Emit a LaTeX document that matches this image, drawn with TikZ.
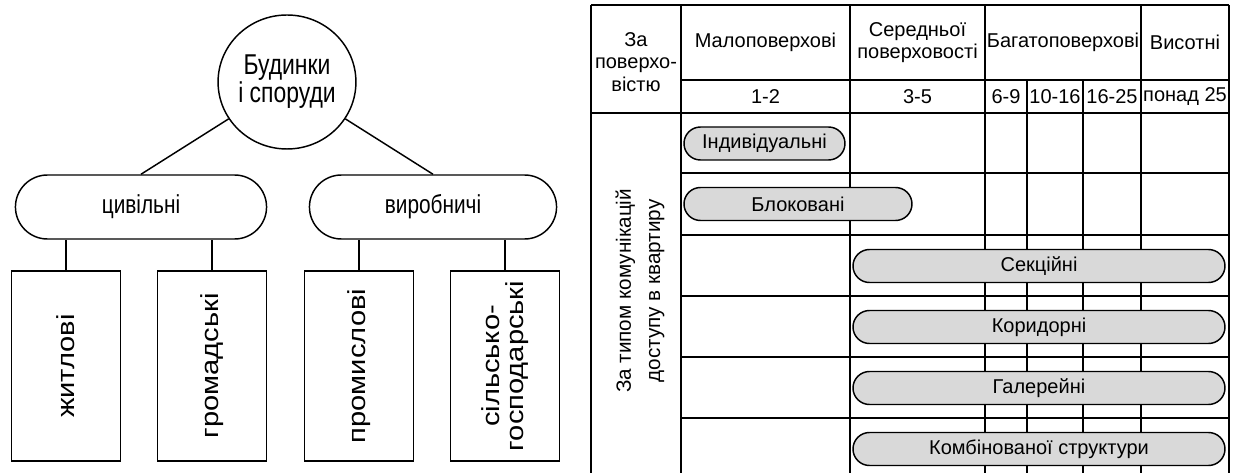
\documentclass[tikz,border=0pt]{standalone}
\usepackage{fontspec}
\setmainfont{Liberation Sans}
\newfontfamily\treenarrow[FakeStretch=0.8]{Liberation Sans}
\newfontfamily\treewide[FakeStretch=1.18]{Liberation Sans}
\usetikzlibrary{positioning,shapes.geometric,shapes.misc}

\begin{document}
\begin{tikzpicture}[x=0.75pt,y=-0.75pt,line width=1.1pt,
  treefont/.style={font=\treenarrow\fontsize{19.5}{22}\selectfont},
  leaffont/.style={font=\treewide\fontsize{18.5}{17.5}\selectfont},
  tabfont/.style={font=\fontsize{15}{17}\selectfont},
  oval/.style={draw, rounded rectangle, minimum height=48pt, treefont},
  leaf/.style={draw, minimum width=81.75pt, minimum height=142.5pt},
  pill/.style={draw, fill=black!15, rounded rectangle, minimum height=24.75pt, inner sep=0pt, tabfont}]
\useasboundingbox (0,0) rectangle (1233,473);
% Tree
\node[draw, ellipse, minimum width=93pt, minimum height=100.5pt, inner sep=0pt, align=center,
  font=\treenarrow\fontsize{21.5}{18.75}\selectfont] (root) at (287,82) {Будинки\\і споруди};
\node[oval, minimum width=195pt] (civ) at (141,207) {цивільні};
\node[oval, minimum width=192pt] (vyr) at (433,207) {виробничі};
\draw (root) -- (civ.north);
\draw (root) -- (vyr.north);
% leaves with vertical labels
\foreach \x/\n/\t/\p in {66/zh/житлові/civ, 212/hr/громадські/civ, 359/pr/промислові/vyr, 505/sh/{сільсько-\\господарські}/vyr} {
  \node[leaf] (\n) at (\x,366) {};
  \node[rotate=90, align=center, leaffont] (\n-t) at (\n) {\t};
  \draw (\n.north) -- (\n.north |- \p.south);
}
% Table grid
\foreach \x in {591,681,850,985,1141,1229} \draw (\x,5) -- (\x,473);
\foreach \x in {1027,1083} \draw (\x,80) -- (\x,473);
\foreach \y in {5,113} \draw (591,\y) -- (1229,\y);
\foreach \y in {80,173,235,296,357,418} \draw (681,\y) -- (1229,\y);
% Header
\node[tabfont, align=center] (h0) at (636,62) {За\\поверхо-\\вістю};
\node[tabfont] (h1) at (765.5,42.5) {Малоповерхові};
\node[tabfont, align=center] (h2) at (917.5,42.5) {Середньої\\поверховості};
\node[tabfont] (h3) at (1063,42.5) {Багатоповерхові};
\node[tabfont] (h4) at (1185,42.5) {Висотні};
\foreach \x/\n/\t in {765.5/s1/1-2, 917.5/s2/3-5, 1006/s3/6-9, 1055/s4/10-16, 1112/s5/16-25, 1185/s6/понад 25}
  \node[tabfont] (\n) at (\x,97) {\t};
% Body
\node[rotate=90, align=center, font=\fontsize{15.5}{22}\selectfont] (side) at (640,291) {За типом комунікацій\\доступу в квартиру};
\foreach \n/\cx/\cy/\w/\t in {p1/764.5/143.5/161/Індивідуальні, p2/798/204/228/Блоковані,
  p3/1039/266/372/Секційні, p4/1039/327/372/Коридорні, p5/1039/388/372/Галерейні,
  p6/1039/449/372/Комбінованої структури}
  \node[pill, minimum width=\w*0.75pt] (\n) at (\cx,\cy) {\t};
\end{tikzpicture}
\end{document}
